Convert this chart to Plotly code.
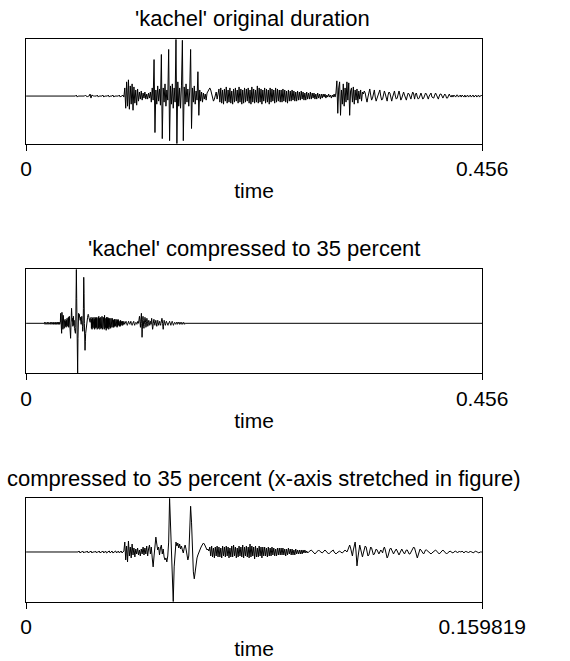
import numpy as np
import plotly.graph_objects as go

# ---------------- data ----------------
orig_title = "'kachel' original duration"
comp_title = "'kachel' compressed to 35 percent"
stretch_title = "compressed to 35 percent (x-axis stretched in figure)"
axis_label = "time"

orig_dur = 0.456
comp_dur = 0.159819
orig_ticks = ["0", "0.456"]
comp_ticks = ["0", "0.159819"]

# original recording, amplitude samples (arbitrary units)
orig_amp = [
    0, 0, 0, 0, 0, 0, 0, 0, 0, 0, 0, 0, 0, 0, 0, 0, 0, 0, 0, 0,
    0, 0, 0, 0, 0, 0, 0, 0, 0, 0, 0, 0, 0, 0, 0, 0, 0, 0, 0, 0,
    0, 0, 0, 0, 0, 0, 0, 0, 0, 0, 0, 0, 0, 0, 0, 1, -1, 0, 0, 0,
    0, 0, 0, 0, 0, 1, 0, -1, 0, 0, 2, -2, 1, 0, 0, 0, 0, 0, 1, -1,
    0, 0, 0, 0, 1, -1, 0, 0, 0, 0, 1, -1, 0, 0, 0, 1, -1, 0, 0, 0,
    0, 0, 1, -1, 0, 0, 1, -1,
    8, -12, 14, -10, 16, -13, 10, -8, 12, -14, 9, -7, 6, -9, 7, -5,
    4, -3, 5, -4, 3, -2, 4, -3, 2, -3, 3, -2,
    4, -6, 8, -4, 36, -36, 6, -8, 10, -5, 7, -9, 41, -42, 8, -6, 12, -10, 6, -4,
    46, -44, 10, -8, 12, -12, 8, -6, 56, -47, 14, -10, 8, -12, 10, 55, -44, 9, -8, 12,
    -6, 7, -10, 5, 46, -32, 8, -6, 10, -8, 5, -4, 24, -19, 6, -5, 4, -6, 3,
    -3, 2, -4, 3, 5, 7, 8, 6, 3, -2, -5, -3, 2, 4, -3, 5,
    7, -6, 8, -7, 6, -8, 7, -5, 9, -7, 6, -6, 8, -7, 5, -8, 7, -6, 8, -5,
    6, -7, 9, -6, 7, -8, 6, -7, 8, -6, 7, -5, 8, -7, 6, -8, 9, -6, 7, -7,
    6, -6, 10, -7, 8, -6, 7, -8, 6, -5, 8, -7, 7, -6, 6, -8, 8, -6, 7, -5,
    6, -7, 8, -6, 7, -5, 6, -6,
    6, -6, 7, -5, 6, -6, 5, -7, 6, -5, 5, -5, 6, -4, 5, -5, 4, -5, 5, -4,
    4, -4, 5, -3, 4, -4, 3, -4, 4, -3, 3, -3, 4, -3, 3, -2, 3, -3, 2, -3,
    3, -2, 2, -3, 2, -2,
    2, -1, 2, -2, 1, -1, 2, -1, 1, -2, 1, -1, 2, -1,
    3, 15, -17, 8, 14, -19, 6, -8, 12, -10, 8, -6, 14, -4, 13, -19, 5, 8, -6, 9,
    -8, 6, -4, 7, -7, 5, -3, 6, -5, 4,
    2, 5, 3, -2, -6, -1, 4, 7, 1, -4, -2, 3, 6, -1, -5, -2, 1, 4, 6, 0,
    -4, -3, 2, 5, 2, -3, -5, 1, 4, 3, -1, -5, -1, 3, 5, 0, -3, -2, 3, 5,
    1, -4, -2, 2, 4, 1, -3, -4, 0, 3, 2, -2, -3, 1, 4, 2, -3,
    2, 3, -1, -3, -2, 2, 3, 0, -3, -2, 1, 3, 2, -2, -3, 0, 2, 3, -1, -2,
    -2, 1, 3, 1, -2, -3, 0, 2, 2, -1, -2, 0, 2, 1, -2, -2, 1, 2, 0, -1,
    1, -1, 1, 0, -1, 1, 1, -1, 0, 1, -1, 1, 0, -1, 1, -1, 0, 1, -1, 0,
    1, -1, 0, 1, -1, 0, 1, -1, 0, 1, -1, 0, 1, 0,
]

# compressed recording (35 percent), amplitude samples
comp_amp = [
    0, 0, 0, 0, 0, 0, 0, 0, 0, 0, 0, 0, 0, 0, 0, 0, 0, 0, 0, 0,
    0, 0, 0, 0, 0, 0, 0, 0, 0, 0, 0, 0, 0, 0, 0, 0, 0, 0, 0, 0,
    0, 0, 0, 0, 0, 0, 0, 0, 0, 0, 0, 0, 0, 0, 0, 0, 0, 0, 1, -1,
    0, 0, 1, -1, 0, 0, 0, 1, -1, 0, 0, 1, -1, 0, 0, 0, 1, -1, 0, 0,
    1, -1, 0, 0, 1, -1, 0, 1, -1, 0, 0, 1, -1, 0, 1, -1, 0, 0, 1, -1,
    0, 1, -1, 0, 1, -1, 0, 1,
    10, -8, 6, -10, 11, -4, 5, -6, 8, -3, 4, -5, 3, -2, 4, -3, 2, -4, 3, -2,
    5, -3, 4, -2, 6, -4, 3, 7, -2, 5,
    -6, -15, -4, 6, 15, 8, 2, 5, -3, 4, 7, -2, 3, -5, -8, -6, -10, -4,
    10, 54, 25, -5, -30, -50, -15, 5,
    10, 6, 9, 4, 8, 3, 6, 2, -1, 4, 7, 3, -3, -8, -4, 15,
    46, 30, 0, -20, -27, -18, -10, -6, -3, 0, 2, 4, 6, 8, 9, 8, 6, 4, 2, 3, 1,
    5, -4, 6, -5, 4, -6, 5, -4, 6, -5, 5, -5, 4, -6, 6, -4, 5, -5, 6, -4,
    5, -6, 4, -5, 6, -5, 7, -4, 5, -6, 4, -5, 6, -4, 5, -5, 7, -6, 5, -4,
    6, -5, 5, -6, 8, -5, 6, -4, 5, -7, 6, -5, 4, -5, 6, -4, 5, -6, 5, -4,
    5, -4, 4, -5, 5, -4, 4, -4, 5, -3, 4, -4, 3, -4, 4, -3, 4, -3,
    4, -3, 4, -3, 3, -4, 3, -3, 4, -2, 3, -3, 3, -3, 2, -3, 3, -2, 2, -2,
    2, -2, 2, -2, 2, -1, 2, -1, 1, -1,
    0, 1, 2, 2, 1, 0, -1, -2, -1, 0, 1, 2, 1, 0, -1, -1, 0, 1, 2, 1,
    0, -1, -2, -1, 0, 1, 2, 2, 0, -1, -2, -1, 0, 1, 1, 0, -1, -1, 0, 1,
    2, 1, 0,
    2, 5, 7, 4, 0, -4, 2, 8, 10, 0, -14, -6, 4, 7, 3, -3, -5, -1, 3,
    6, 5, 1, -4, -3, 2, 5, 4, 0, -3, -2, 1, 3, 2, -1, -2, 0, 2, 1, -1,
    3, 5, 2, -3, -6, -4, 0, 3, 4, 2, -1, -2, 0, 2, 3, 1, -2, -3, -1, 2,
    3, 1, -1, -2, 0, 2, 2, 0,
    -2, -2, 0, 2, 3, 5, 4, 0, -4, -6, -3, 1, 3, 2, 0, -1, -2, 0, 2, 2,
    1, 0, -1, -2, -2, -1, 0, 1, 2, 2, 1, 0, -1, -2, -1, 0, 1, 2, 1, 0,
    -1, -2, -1, 0, 1, 1, 0, -1, -1, 0, 1, 1, 0, -1, 0, 1, 0,
    0, 1, 0, -1, 0, 1, 0, 0, -1, 0, 1, 0, 0, -1, 0, 0, 1, 0, 0, -1,
    0, 0, 0, 0,
]

# ---------------- figure ----------------
W, H = 570, 661
FONT = "Liberation Sans, Arial, Helvetica, sans-serif"

t_orig = np.linspace(0, orig_dur, len(orig_amp))
t_comp = np.linspace(0, comp_dur, len(comp_amp))

line = dict(color="black", width=1)
fig = go.Figure()
fig.add_trace(go.Scatter(x=t_orig, y=orig_amp, mode="lines", line=line,
                         xaxis="x", yaxis="y", hoverinfo="skip"))
fig.add_trace(go.Scatter(x=t_comp, y=comp_amp, mode="lines", line=line,
                         xaxis="x2", yaxis="y2", hoverinfo="skip"))
fig.add_trace(go.Scatter(x=[comp_dur, orig_dur], y=[0, 0], mode="lines", line=line,
                         xaxis="x2", yaxis="y2", hoverinfo="skip"))
fig.add_trace(go.Scatter(x=t_comp, y=comp_amp, mode="lines", line=line,
                         xaxis="x3", yaxis="y3", hoverinfo="skip"))

x_dom = [22 / W, 522 / W]


def ydom(top, bottom):
    return [1 - bottom / H, 1 - top / H]


def xaxis(rng, ticks, anchor):
    return dict(domain=x_dom, range=[0, rng], anchor=anchor,
                tickmode="array", tickvals=[0, rng], ticktext=ticks,
                ticks="outside", ticklen=6, tickcolor="black", tickwidth=1,
                tickfont=dict(family=FONT, size=21, color="black"),
                showline=True, linecolor="black", linewidth=1, mirror=True,
                showgrid=False, zeroline=False,
                title=dict(text=axis_label, font=dict(family=FONT, size=21, color="black"),
                           standoff=4))


def yaxis(vals, dom, anchor):
    return dict(domain=dom, range=[min(vals), max(vals)], anchor=anchor,
                showticklabels=False, ticks="", showline=True, linecolor="black",
                linewidth=1, mirror=True, showgrid=False, zeroline=False)


fig.update_layout(
    width=W, height=H, autosize=False,
    margin=dict(l=0, r=0, t=0, b=0, pad=0),
    paper_bgcolor="white", plot_bgcolor="white",
    showlegend=False,
    xaxis=xaxis(orig_dur, orig_ticks, "y"),
    yaxis=yaxis(orig_amp, ydom(39.3, 143.7), "x"),
    xaxis2=xaxis(orig_dur, orig_ticks, "y2"),
    yaxis2=yaxis(comp_amp, ydom(269.3, 373.3), "x2"),
    xaxis3=xaxis(comp_dur, comp_ticks, "y3"),
    yaxis3=yaxis(comp_amp, ydom(498.3, 601.7), "x3"),
)

for text, xc, yc in [(orig_title, 270, 18), (comp_title, 272, 248), (stretch_title, 283, 478)]:
    fig.add_annotation(text=text, xref="paper", yref="paper",
                       x=xc / W, y=1 - yc / H, xanchor="center", yanchor="middle",
                       showarrow=False,
                       font=dict(family=FONT, size=22, color="black"))

fig.write_html("out.html")
